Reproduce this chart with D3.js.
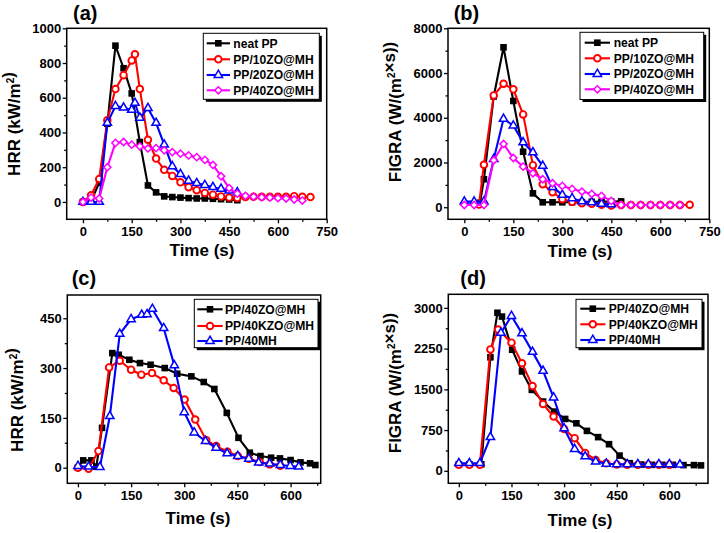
<!DOCTYPE html>
<html><head><meta charset="utf-8">
<script src="https://cdn.jsdelivr.net/npm/d3@7"></script>
<style>
body{margin:0;background:#fff}
svg{display:block}
text{font-family:"Liberation Sans",Arial,Helvetica,sans-serif;font-weight:bold;fill:#000}
</style></head>
<body><svg id="chart" width="724" height="533"></svg>
<script>
// ---------------- DATA ----------------
const legendA = ["neat PP","PP/10ZO@MH","PP/20ZO@MH","PP/40ZO@MH"];
const legendC = ["PP/40ZO@MH","PP/40KZO@MH","PP/40MH"];

const ticksA_x = [0,150,300,450,600,750];
const ticksA_y = [0,200,400,600,800,1000];
const ticksB_y = [0,2000,4000,6000,8000];
const ticksC_x = [0,150,300,450,600];
const ticksC_y = [0,150,300,450];
const ticksD_y = [0,750,1500,2250,3000];

// (a) HRR, kW/m2 : [time s, value]
const a_neat = [[0,0],[25,5],[50,110],[75,450],[100,900],[125,770],[150,625],[175,345],[200,95],[225,55],[250,32],[275,28],[300,25],[325,22],[350,20],[375,20],[400,18],[425,16],[450,14],[475,10]];
const a_10 = [[0,0],[25,38],[50,132],[75,470],[100,650],[125,730],[150,815],[160,850],[175,650],[200,358],[225,250],[250,185],[275,150],[300,113],[325,85],[350,68],[375,52],[400,42],[425,32],[450,25],[475,22],[500,28],[525,30],[550,30],[575,30],[600,30],[625,30],[650,33],[675,30],[700,28]];
const a_20 = [[0,0],[25,0],[50,0],[75,455],[100,552],[125,543],[150,530],[160,570],[175,485],[200,540],[225,455],[250,330],[275,205],[300,160],[325,122],[350,108],[375,97],[400,85],[425,75],[450,65],[475,55]];
const a_40 = [[0,0],[25,25],[50,20],[75,200],[100,340],[125,345],[150,330],[175,320],[200,308],[225,310],[250,297],[275,287],[300,278],[325,268],[350,258],[375,242],[400,213],[425,148],[450,80],[475,48],[500,35],[525,30],[550,27],[575,25],[600,22],[625,20],[650,14],[675,8]];

// (b) FIGRA, W/(m2 s)
const b_neat = [[48,200],[60,1250],[90,4950],[120,7150],[150,4750],[180,2480],[210,620],[240,220],[270,220],[300,220],[330,220],[360,230],[390,240],[420,250],[450,250],[480,260]];
const b_10 = [[45,120],[60,1900],[90,5000],[120,5520],[150,5270],[180,4150],[210,1880],[240,1030],[270,670],[300,360],[330,240],[360,180],[390,150],[420,110],[450,80],[480,100],[510,100],[540,100],[570,100],[600,100],[630,100],[660,100],[690,110]];
const b_20 = [[0,250],[30,250],[60,250],[90,2150],[120,3950],[150,3650],[180,2900],[210,2450],[240,1850],[270,900],[300,550],[330,400],[360,260],[390,220],[420,150],[450,130]];
const b_40 = [[0,100],[30,100],[60,100],[90,2100],[120,2830],[150,2200],[180,1815],[210,1520],[240,1250],[270,1073],[300,953],[330,819],[360,700],[390,596],[420,506],[450,283],[480,104],[510,100],[540,100],[570,100],[600,100],[630,100],[660,100]];

// (c) HRR, kW/m2
const c_40zo = [[0,0],[15,22],[38,22],[52,3],[68,120],[97,345],[115,340],[145,325],[175,315],[205,310],[245,300],[280,283],[320,275],[355,258],[385,237],[420,165],[453,90],[485,45],[515,35],[545,30],[570,28],[600,23],[628,16],[655,13],[670,8]];
const c_40kzo = [[0,0],[30,-3],[58,50],[88,302],[118,322],[150,295],[179,280],[209,285],[242,263],[270,240],[301,205],[331,145],[362,83],[390,65],[422,48],[451,35],[482,27],[513,17],[541,10],[571,6]];
const c_40mh = [[0,5],[30,3],[62,2],[90,155],[118,403],[150,447],[180,460],[195,462],[210,478],[242,420],[272,308],[300,167],[328,106],[360,80],[390,60],[421,43],[451,35],[482,27],[510,15],[541,12],[571,8],[599,5],[623,3]];

// (d) FIGRA, W/(m2 s)
const d_40zo = [[0,120],[30,120],[64,120],[90,2090],[110,2910],[123,2840],[152,2230],[180,1830],[208,1490],[240,1275],[272,1090],[303,955],[335,875],[365,735],[397,620],[428,490],[458,280],[487,140],[520,115],[550,110],[580,110],[610,110],[640,105],[670,105],[690,100]];
const d_40kzo = [[0,110],[30,110],[60,110],[90,2235],[112,2600],[150,2360],[180,1980],[210,1560],[240,1230],[270,1000],[300,770],[330,600],[360,330],[390,200],[420,140],[450,115],[480,110],[510,110],[540,110],[570,110],[600,110]];
const d_40mh = [[0,140],[30,140],[60,140],[90,620],[120,2540],[150,2850],[180,2530],[210,2190],[240,1840],[270,1350],[300,780],[330,400],[360,265],[390,170],[420,130],[450,120],[480,120],[510,120],[540,120],[570,120],[600,120],[630,115]];

// ---------------- DRAWING ----------------
const svg = d3.select("#chart");
const COLORS = {black:"#000000", red:"#ff0000", blue:"#0000ff", magenta:"#ff00ff"};
const SHAPES = {black:"square", red:"circle", blue:"triangle", magenta:"diamond"};

function marker(sel, key){
  const c = COLORS[key], s = SHAPES[key];
  if (s==="square") sel.append("rect").attr("x",-3.3).attr("y",-3.3).attr("width",6.6).attr("height",6.6).attr("fill",c);
  else if (s==="circle") sel.append("circle").attr("r",3.3).attr("fill","#fff").attr("stroke",c).attr("stroke-width",1.9);
  else if (s==="triangle") sel.append("path").attr("d",d3.symbol(d3.symbolTriangle,30)()).attr("fill","#fff").attr("stroke",c).attr("stroke-width",1.5);
  else sel.append("path").attr("d",d3.symbol(d3.symbolSquare,26)()).attr("transform","rotate(45)").attr("fill","#fff").attr("stroke",c).attr("stroke-width",1.5);
}

function titleText(g, x, y, parts, rotate){
  const t = g.append("text").attr("transform",`translate(${x},${y})`+(rotate?" rotate(-90)":""))
    .attr("text-anchor","middle").attr("dy","0.35em").style("font-size","17px");
  parts.forEach(p=>{
    if (p.sup) { t.append("tspan").attr("dy",-6).style("font-size","10px").text(p.sup); t.append("tspan").attr("dy",6).text(""); }
    else t.append("tspan").text(p.t);
  });
}

function drawPanel(p){
  const x = d3.scaleLinear().domain(p.xDom).range([p.L,p.R]);
  const y = d3.scaleLinear().domain(p.yDom).range([p.B,p.T]);
  const g = svg.append("g");

  const minorX = d3.range(75, p.xDom[1], 150);
  const minorY = p.yMinor;
  const styleAxis = a => { a.select(".domain").remove(); a.selectAll("line").attr("stroke","#000").attr("stroke-width",1.3); a.selectAll("text").style("font-size","13px").attr("fill","#000"); };
  g.append("g").attr("transform",`translate(0,${p.B})`).call(d3.axisBottom(x).tickValues(minorX).tickSize(2.5).tickFormat("")).call(styleAxis);
  g.append("g").attr("transform",`translate(0,${p.B})`).call(d3.axisBottom(x).tickValues(p.xTicks).tickSize(4).tickPadding(3).tickFormat(d3.format("d"))).call(styleAxis);
  g.append("g").attr("transform",`translate(${p.L},0)`).call(d3.axisLeft(y).tickValues(minorY).tickSize(2.5).tickFormat("")).call(styleAxis);
  g.append("g").attr("transform",`translate(${p.L},0)`).call(d3.axisLeft(y).tickValues(p.yTicks).tickSize(4).tickPadding(1.5).tickFormat(d3.format("d"))).call(styleAxis);
  g.append("rect").attr("x",p.L).attr("y",p.T).attr("width",p.R-p.L).attr("height",p.B-p.T)
    .attr("fill","none").attr("stroke","#000").attr("stroke-width",1.5);

  const line = d3.line().x(d=>x(d[0])).y(d=>y(d[1]));
  p.series.forEach(s=>{
    g.append("path").datum(s.data).attr("d",line).attr("fill","none").attr("stroke",COLORS[s.key]).attr("stroke-width",2.1).attr("stroke-linejoin","round");
    g.append("g").selectAll("g").data(s.data).join("g")
      .attr("transform",d=>`translate(${x(d[0])},${y(d[1])})`)
      .each(function(){ marker(d3.select(this), s.key); });
  });

  const lg = p.legend;
  g.append("rect").attr("x",lg.x0+2.5).attr("y",lg.y0+2.5).attr("width",lg.x1-lg.x0).attr("height",lg.y1-lg.y0).attr("fill","#000");
  g.append("rect").attr("x",lg.x0).attr("y",lg.y0).attr("width",lg.x1-lg.x0).attr("height",lg.y1-lg.y0).attr("fill","#fff").attr("stroke","#000").attr("stroke-width",1);
  p.series.forEach((s,i)=>{
    const yy = lg.rows[i];
    g.append("line").attr("x1",lg.l0).attr("x2",lg.l1).attr("y1",yy).attr("y2",yy).attr("stroke",COLORS[s.key]).attr("stroke-width",2.1);
    const m = g.append("g").attr("transform",`translate(${(lg.l0+lg.l1)/2},${yy})`); marker(m, s.key);
    g.append("text").attr("x",lg.tx).attr("y",yy).attr("dy","0.36em").style("font-size","12.1px").text(s.name);
  });

  g.append("text").attr("x",p.lab[0]).attr("y",p.lab[1]).style("font-size","20px").text(p.label);
  titleText(g, p.xt[0], p.xt[1], [{t:"Time (s)"}], false);
  titleText(g, p.yt[0], p.yt[1], p.yTitle, true);
}

const hrrTitle = [{t:"HRR (kW/m"},{sup:"2"},{t:")"}];
const figTitle = [{t:"FIGRA (W/(m"},{sup:"2"},{t:"×s))"}];

drawPanel({L:66.7,R:326.7,T:28.3,B:219.3,xDom:[-50,750],yDom:[-100,1000],
  xTicks:ticksA_x,yTicks:ticksA_y,yMinor:d3.range(100,1000,200),
  series:[{key:"black",name:legendA[0],data:a_neat},{key:"red",name:legendA[1],data:a_10},{key:"blue",name:legendA[2],data:a_20},{key:"magenta",name:legendA[3],data:a_40}],
  legend:{x0:203.3,x1:319.3,y0:33.3,y1:99.3,l0:206.7,l1:230,tx:233.3,rows:[43.3,59.3,75,90.3]},
  label:"(a)",lab:[73,20],xt:[202,250],yt:[14,124],yTitle:hrrTitle});

drawPanel({L:448,R:709.3,T:28.3,B:219.3,xDom:[-50,750],yDom:[-540,8000],
  xTicks:ticksA_x,yTicks:ticksB_y,yMinor:d3.range(1000,8000,2000),
  series:[{key:"black",name:legendA[0],data:b_neat},{key:"red",name:legendA[1],data:b_10},{key:"blue",name:legendA[2],data:b_20},{key:"magenta",name:legendA[3],data:b_40}],
  legend:{x0:580,x1:703.7,y0:32.3,y1:99.5,l0:584.7,l1:610,tx:613.7,rows:[42.7,58.3,74,89.3]},
  label:"(b)",lab:[453.7,20],xt:[580,251],yt:[395.5,112],yTitle:figTitle});

drawPanel({L:67.3,R:320.7,T:295,B:483.3,xDom:[-30,685],yDom:[-47,520],
  xTicks:ticksC_x,yTicks:ticksC_y,yMinor:d3.range(75,520,150),
  series:[{key:"black",name:legendC[0],data:c_40zo},{key:"red",name:legendC[1],data:c_40kzo},{key:"blue",name:legendC[2],data:c_40mh}],
  legend:{x0:194.3,x1:318,y0:299.3,y1:347.7,l0:197.3,l1:222.7,tx:225,rows:[309.3,326,341]},
  label:"(c)",lab:[71.7,284.5],xt:[198,518],yt:[17.5,400],yTitle:hrrTitle});

drawPanel({L:448.3,R:708,T:294.3,B:483.3,xDom:[-30,710],yDom:[-230,3250],
  xTicks:ticksC_x,yTicks:ticksD_y,yMinor:d3.range(375,3250,750),
  series:[{key:"black",name:legendC[0],data:d_40zo},{key:"red",name:legendC[1],data:d_40kzo},{key:"blue",name:legendC[2],data:d_40mh}],
  legend:{x0:576,x1:702,y0:299.3,y1:347.7,l0:580.3,l1:605.3,tx:608.7,rows:[308.7,324.3,340]},
  label:"(d)",lab:[460.3,284.5],xt:[580,520],yt:[395,383],yTitle:figTitle});
</script>
</body></html>
